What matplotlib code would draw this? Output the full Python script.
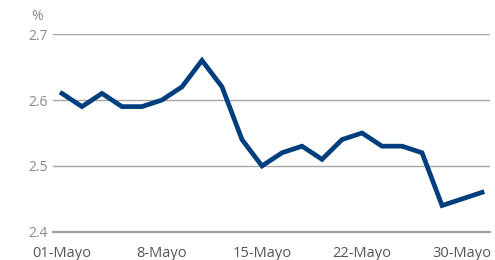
import matplotlib
matplotlib.use("Agg")
import matplotlib.pyplot as plt

# Tasa diaria, mayo
values = [2.61, 2.59, 2.61, 2.59, 2.59, 2.60, 2.62, 2.66, 2.62, 2.54, 2.50,
          2.52, 2.53, 2.51, 2.54, 2.55, 2.53, 2.53, 2.52, 2.44, 2.45, 2.46]
tick_pos = [0, 5, 10, 15, 20]
tick_labels = ["01-Mayo", "8-Mayo", "15-Mayo", "22-Mayo", "30-Mayo"]
y_ticks = [2.4, 2.5, 2.6, 2.7]

plt.rcParams['font.family'] = ['Open Sans', 'DejaVu Sans']
grey = "#8a8a8a"

fig = plt.figure(figsize=(4.95, 2.6), dpi=100)
ax = fig.add_axes([0.107, 0.108, 0.883, 0.761])

ax.plot(range(len(values)), values, color="#003e7e", lw=3.4,
        solid_joinstyle="miter", zorder=3)

ax.set_ylim(2.4, 2.7)
ax.set_xlim(-0.45, 21.4)
ax.set_yticks(y_ticks)
ax.set_yticklabels([f"{v:.1f}" for v in y_ticks])
ax.set_xticks(tick_pos)
ax.set_xticklabels(tick_labels)
ax.grid(axis="y", color="#a6a6a6", lw=1.0)
ax.tick_params(length=0, labelsize=10, colors=grey, pad=4)
ax.tick_params(axis="x", colors="#555555", labelsize=10.5, pad=10)
for s in ["top", "right", "left"]:
    ax.spines[s].set_visible(False)
ax.spines["bottom"].set_color("#a0a0a0")
ax.spines["bottom"].set_linewidth(1.6)

fig.text(0.075, 0.935, "%", color=grey, fontsize=10, ha="center", va="center")

fig.savefig("out.png", dpi=100)
